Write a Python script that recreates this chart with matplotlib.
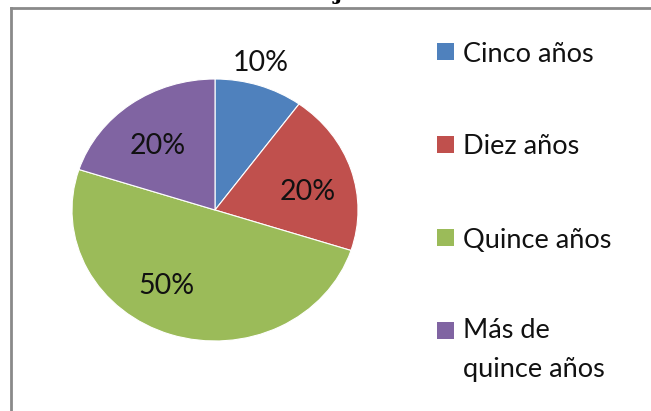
import matplotlib
matplotlib.use("Agg")
import matplotlib.pyplot as plt
from matplotlib.patches import Rectangle
from matplotlib.lines import Line2D

plt.rcParams['font.family'] = ['Lato', 'DejaVu Sans']

labels = ['Cinco años', 'Diez años', 'Quince años', 'Más de\nquince años']
values = [10, 20, 50, 20]
colors = ['#4F81BD', '#C0504D', '#9BBB59', '#8064A2']

W, H = 651, 411
fig = plt.figure(figsize=(W / 100, H / 100), dpi=100)
fig.patch.set_facecolor('white')

# pie axes: slightly wider than tall, like the original
cx, cy, rx, ry = 215, 210, 143, 131
ax = fig.add_axes([(cx - rx) / W, 1 - (cy + ry) / H, 2 * rx / W, 2 * ry / H])
wedges, texts, autotexts = ax.pie(values, colors=colors, startangle=90, counterclock=False,
                                  autopct='%1.0f%%', pctdistance=0.66,
                                  wedgeprops=dict(linewidth=0.8, edgecolor='white'),
                                  textprops=dict(fontsize=20.5, color='#111111'))
ax.set_aspect('auto')
ax.set_xlim(-1, 1)
ax.set_ylim(-1, 1)
# label placement as in the original ("best fit"), 10% outside its slice
label_pos = [(0.32, 1.12), (0.65, 0.14), (-0.34, -0.58), (-0.40, 0.49)]
for t, p in zip(autotexts, label_pos):
    t.set_position(p)

# frame lines (left and top)
fig.add_artist(Line2D([11 / W, 11 / W], [0, 1 - 8 / H], transform=fig.transFigure,
                      color='#8a8a8a', linewidth=2))
fig.add_artist(Line2D([11 / W, 1], [1 - 8 / H, 1 - 8 / H], transform=fig.transFigure,
                      color='#8a8a8a', linewidth=2))

# cut-off title fragment at the very top
fig.text(338 / W, 1 + 1 / H, 'j', ha='center', va='baseline', fontsize=16,
         fontweight='bold', family='DejaVu Serif')

# legend
ys = [52, 145, 238, 330]
for lab, col, y in zip(labels, colors, ys):
    fig.add_artist(Rectangle(((437) / W, 1 - (y + 8.5) / H), 17 / W, 17 / H,
                             transform=fig.transFigure, facecolor=col, edgecolor='none'))
    if '\n' in lab:
        fig.text(463 / W, 1 - (y - 12) / H, lab, ha='left', va='top',
                 fontsize=19.5, color='#111111', linespacing=1.72)
    else:
        fig.text(463 / W, 1 - (y + 2) / H, lab, ha='left', va='center',
                 fontsize=19.5, color='#111111')

fig.savefig('out.png', dpi=100)
